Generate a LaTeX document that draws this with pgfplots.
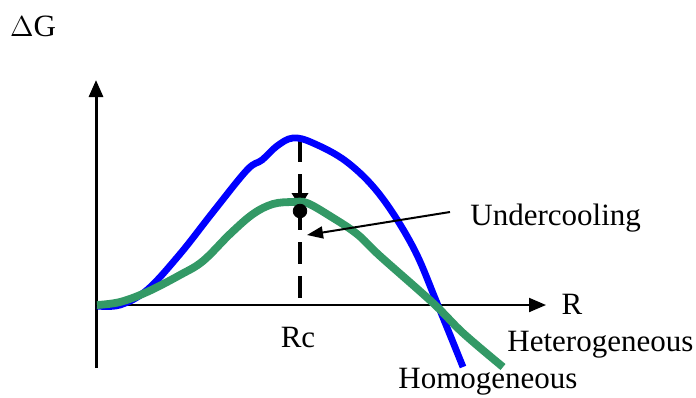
\documentclass[border=0pt]{standalone}
\usepackage{fontspec}
\setmainfont{Liberation Serif}
\usepackage{pgfplots}
\pgfplotsset{compat=1.18}
\usetikzlibrary{arrows.meta}
\definecolor{homblue}{RGB}{0,0,255}
\definecolor{hetgreen}{RGB}{51,153,102}
\tikzset{lbl/.style={font=\fontsize{15.5}{18}\selectfont}}
\begin{document}
\begin{tikzpicture}
\begin{axis}[
  scale only axis, width=348pt, height=198.5pt,
  xmin=0, xmax=696, ymin=0, ymax=397, y dir=reverse,
  hide axis, clip=false,
]
% frame of the picture (invisible)
\addplot[draw=none] coordinates {(0,0)(696,397)};
% axes
\addplot[black, line width=1.5pt, -{Triangle[length=8.5pt,width=7pt]}]
  coordinates {(96,368)(96,80)};
\addplot[black, line width=1pt, -{Triangle[length=8.5pt,width=7pt]}]
  coordinates {(96,305)(546,305)};
% Rc dashed line
\addplot[black, line width=2pt, dash pattern=on 11pt off 6pt]
  coordinates {(300,140)(300,305)};
\addplot[black, line width=2pt, -{Triangle[length=7pt,width=8pt]}]
  coordinates {(300,185)(300,207)};
% homogeneous
\addplot[homblue, line width=3.4pt, smooth, tension=0.6]
  coordinates {(97,306)(120,305)(147,290)(180,254)(213,212)(247,170)(262,160)(277,146)(293,138)(313,143)(347,162)(380,195)(413,247)(437,303)(463,367)};
% heterogeneous
\addplot[hetgreen, line width=3.9pt, smooth, tension=0.6]
  coordinates {(97,305)(120,302)(147,292)(180,275)(203,261)(230,234)(253,214)(273,204)(293,202)(307,203)(330,216)(357,234)(380,256)(433,303)(463,333)(503,367)};
% dot
\addplot[black, only marks, mark=*, mark size=3.4pt] coordinates {(300,211)};
% undercooling arrow
\addplot[black, line width=1pt, -{Triangle[length=8pt,width=6pt]}]
  coordinates {(450,212)(307,235)};
% labels
\node[lbl] at (axis cs:33,26) {$\Delta$G};
\node[lbl] at (axis cs:572,304) {R};
\node[lbl] at (axis cs:298,337) {Rc};
\node[lbl, anchor=west, inner sep=0pt] at (axis cs:470,218) {Undercooling};
\node[lbl, anchor=west, inner sep=0pt] at (axis cs:507,345) {Heterogeneous};
\node[lbl, anchor=west, inner sep=0pt] at (axis cs:398,382) {Homogeneous};
\end{axis}
\end{tikzpicture}
\end{document}
